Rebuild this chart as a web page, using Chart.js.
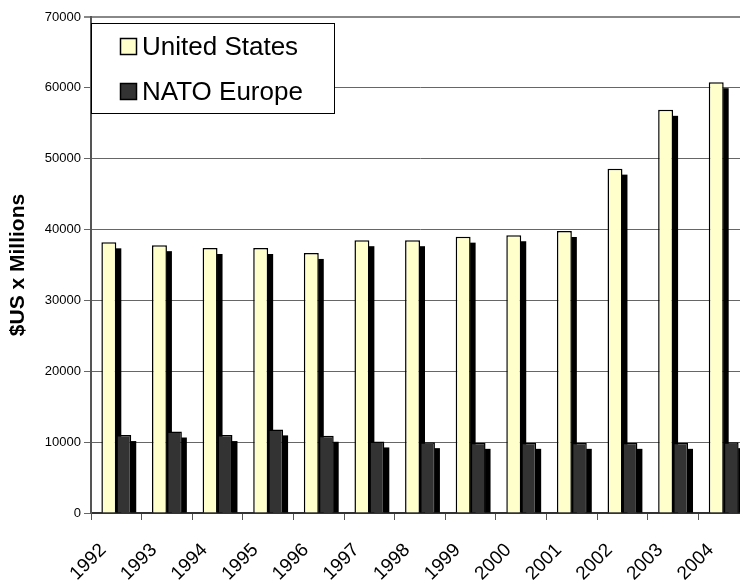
<!DOCTYPE html>
<html>
<head>
<meta charset="utf-8">
<script src="https://cdn.jsdelivr.net/npm/chart.js@4"></script>
<style>
    html, body { margin: 0; padding: 0; background: #fff; overflow: hidden; }
    #wrap { width: 740px; height: 584px; overflow: hidden; }
</style>
</head>
<body>
<div id="wrap"><canvas id="spendChart" width="752" height="584"></canvas></div>
<script>
// Years on the category axis
const years = ['1992', '1993', '1994', '1995', '1996', '1997', '1998', '1999', '2000', '2001', '2002', '2003', '2004'];

// Spending, $US x millions
const unitedStates = [38200, 37800, 37400, 37400, 36700, 38500, 38500, 39000, 39200, 39800, 48600, 56900, 60800];
const natoEurope = [11000, 11500, 11000, 11800, 10900, 10100, 10000, 9900, 9900, 9900, 9900, 9900, 10000];

const yTicks = [0, 10000, 20000, 30000, 40000, 50000, 60000, 70000];

Chart.defaults.font.family = "'Liberation Sans', Arial, sans-serif";
Chart.defaults.color = '#000';

// Fake Excel 3D depth: black side block behind each bar
const depthShadow = {
    id: 'depthShadow',
    beforeDatasetsDraw(chart) {
        const ctx = chart.ctx;
        ctx.save();
        ctx.fillStyle = '#000';
        chart.data.datasets.forEach((ds, i) => {
            chart.getDatasetMeta(i).data.forEach(bar => {
                const right = bar.x + bar.width / 2;
                ctx.fillRect(right - 0.5, bar.y + 6, 5.5, bar.base - bar.y - 6);
            });
        });
        ctx.restore();
    }
};

// Legend box sitting inside the plot, top left
const boxLegend = {
    id: 'boxLegend',
    afterDraw(chart) {
        const ctx = chart.ctx;
        ctx.save();
        ctx.fillStyle = '#fff';
        ctx.fillRect(91.5, 23.5, 243, 90);
        ctx.strokeStyle = '#000';
        ctx.lineWidth = 1;
        ctx.strokeRect(91.5, 23.5, 243, 90);
        chart.data.datasets.forEach((ds, i) => {
            const y = 46.5 + i * 45;
            ctx.fillStyle = ds.backgroundColor;
            ctx.fillRect(120.5, y - 8, 16, 16);
            ctx.lineWidth = 1.5;
            ctx.strokeRect(120.5, y - 8, 16, 16);
            ctx.fillStyle = '#000';
            ctx.font = "26px 'Liberation Sans', Arial, sans-serif";
            ctx.textBaseline = 'middle';
            ctx.textAlign = 'left';
            ctx.fillText(ds.label, 142, y + 1);
        });
        ctx.restore();
    }
};

new Chart(document.getElementById('spendChart').getContext('2d'), {
    type: 'bar',
    data: {
        labels: years,
        datasets: [{
            label: 'United States',
            data: unitedStates,
            backgroundColor: '#FFFFCC',
            borderColor: '#000',
            borderWidth: 1.5,
            categoryPercentage: 0.59,
            barPercentage: 1
        }, {
            label: 'NATO Europe',
            data: natoEurope,
            backgroundColor: '#333333',
            borderColor: '#000',
            borderWidth: 1.5,
            categoryPercentage: 0.59,
            barPercentage: 1
        }]
    },
    options: {
        responsive: false,
        animation: false,
        layout: {
            padding: { top: 17, right: 3, left: 0, bottom: 0 }
        },
        plugins: {
            legend: { display: false },
            tooltip: { enabled: false }
        },
        scales: {
            x: {
                offset: true,
                grid: {
                    offset: true,
                    drawOnChartArea: false,
                    tickLength: 7,
                    color: '#555'
                },
                border: { color: '#333', width: 2 },
                ticks: {
                    autoSkip: false,
                    minRotation: 45,
                    maxRotation: 45,
                    padding: 19,
                    labelOffset: -13,
                    font: { size: 19 }
                },
                afterFit(scale) {
                    scale.height = 71;
                    scale.paddingLeft = 0;
                    scale.paddingRight = 0;
                }
            },
            y: {
                min: 0,
                max: 70000,
                afterBuildTicks(scale) {
                    scale.ticks = yTicks.map(v => ({ value: v }));
                },
                grid: {
                    tickLength: 7,
                    color: ctx => ctx.index === 7 ? '#888' : '#666',
                    lineWidth: ctx => ctx.index === 7 ? 2 : 1
                },
                border: { color: '#555', width: 2 },
                ticks: {
                    padding: 3,
                    font: { size: 13 },
                    callback: v => String(v)
                },
                title: {
                    display: true,
                    text: '$US x Millions',
                    font: { size: 21, weight: 'bold' },
                    padding: { top: 6, bottom: 0 }
                },
                afterFit(scale) {
                    scale.width = 91;
                }
            }
        }
    },
    plugins: [depthShadow, boxLegend]
});
</script>
</body>
</html>
